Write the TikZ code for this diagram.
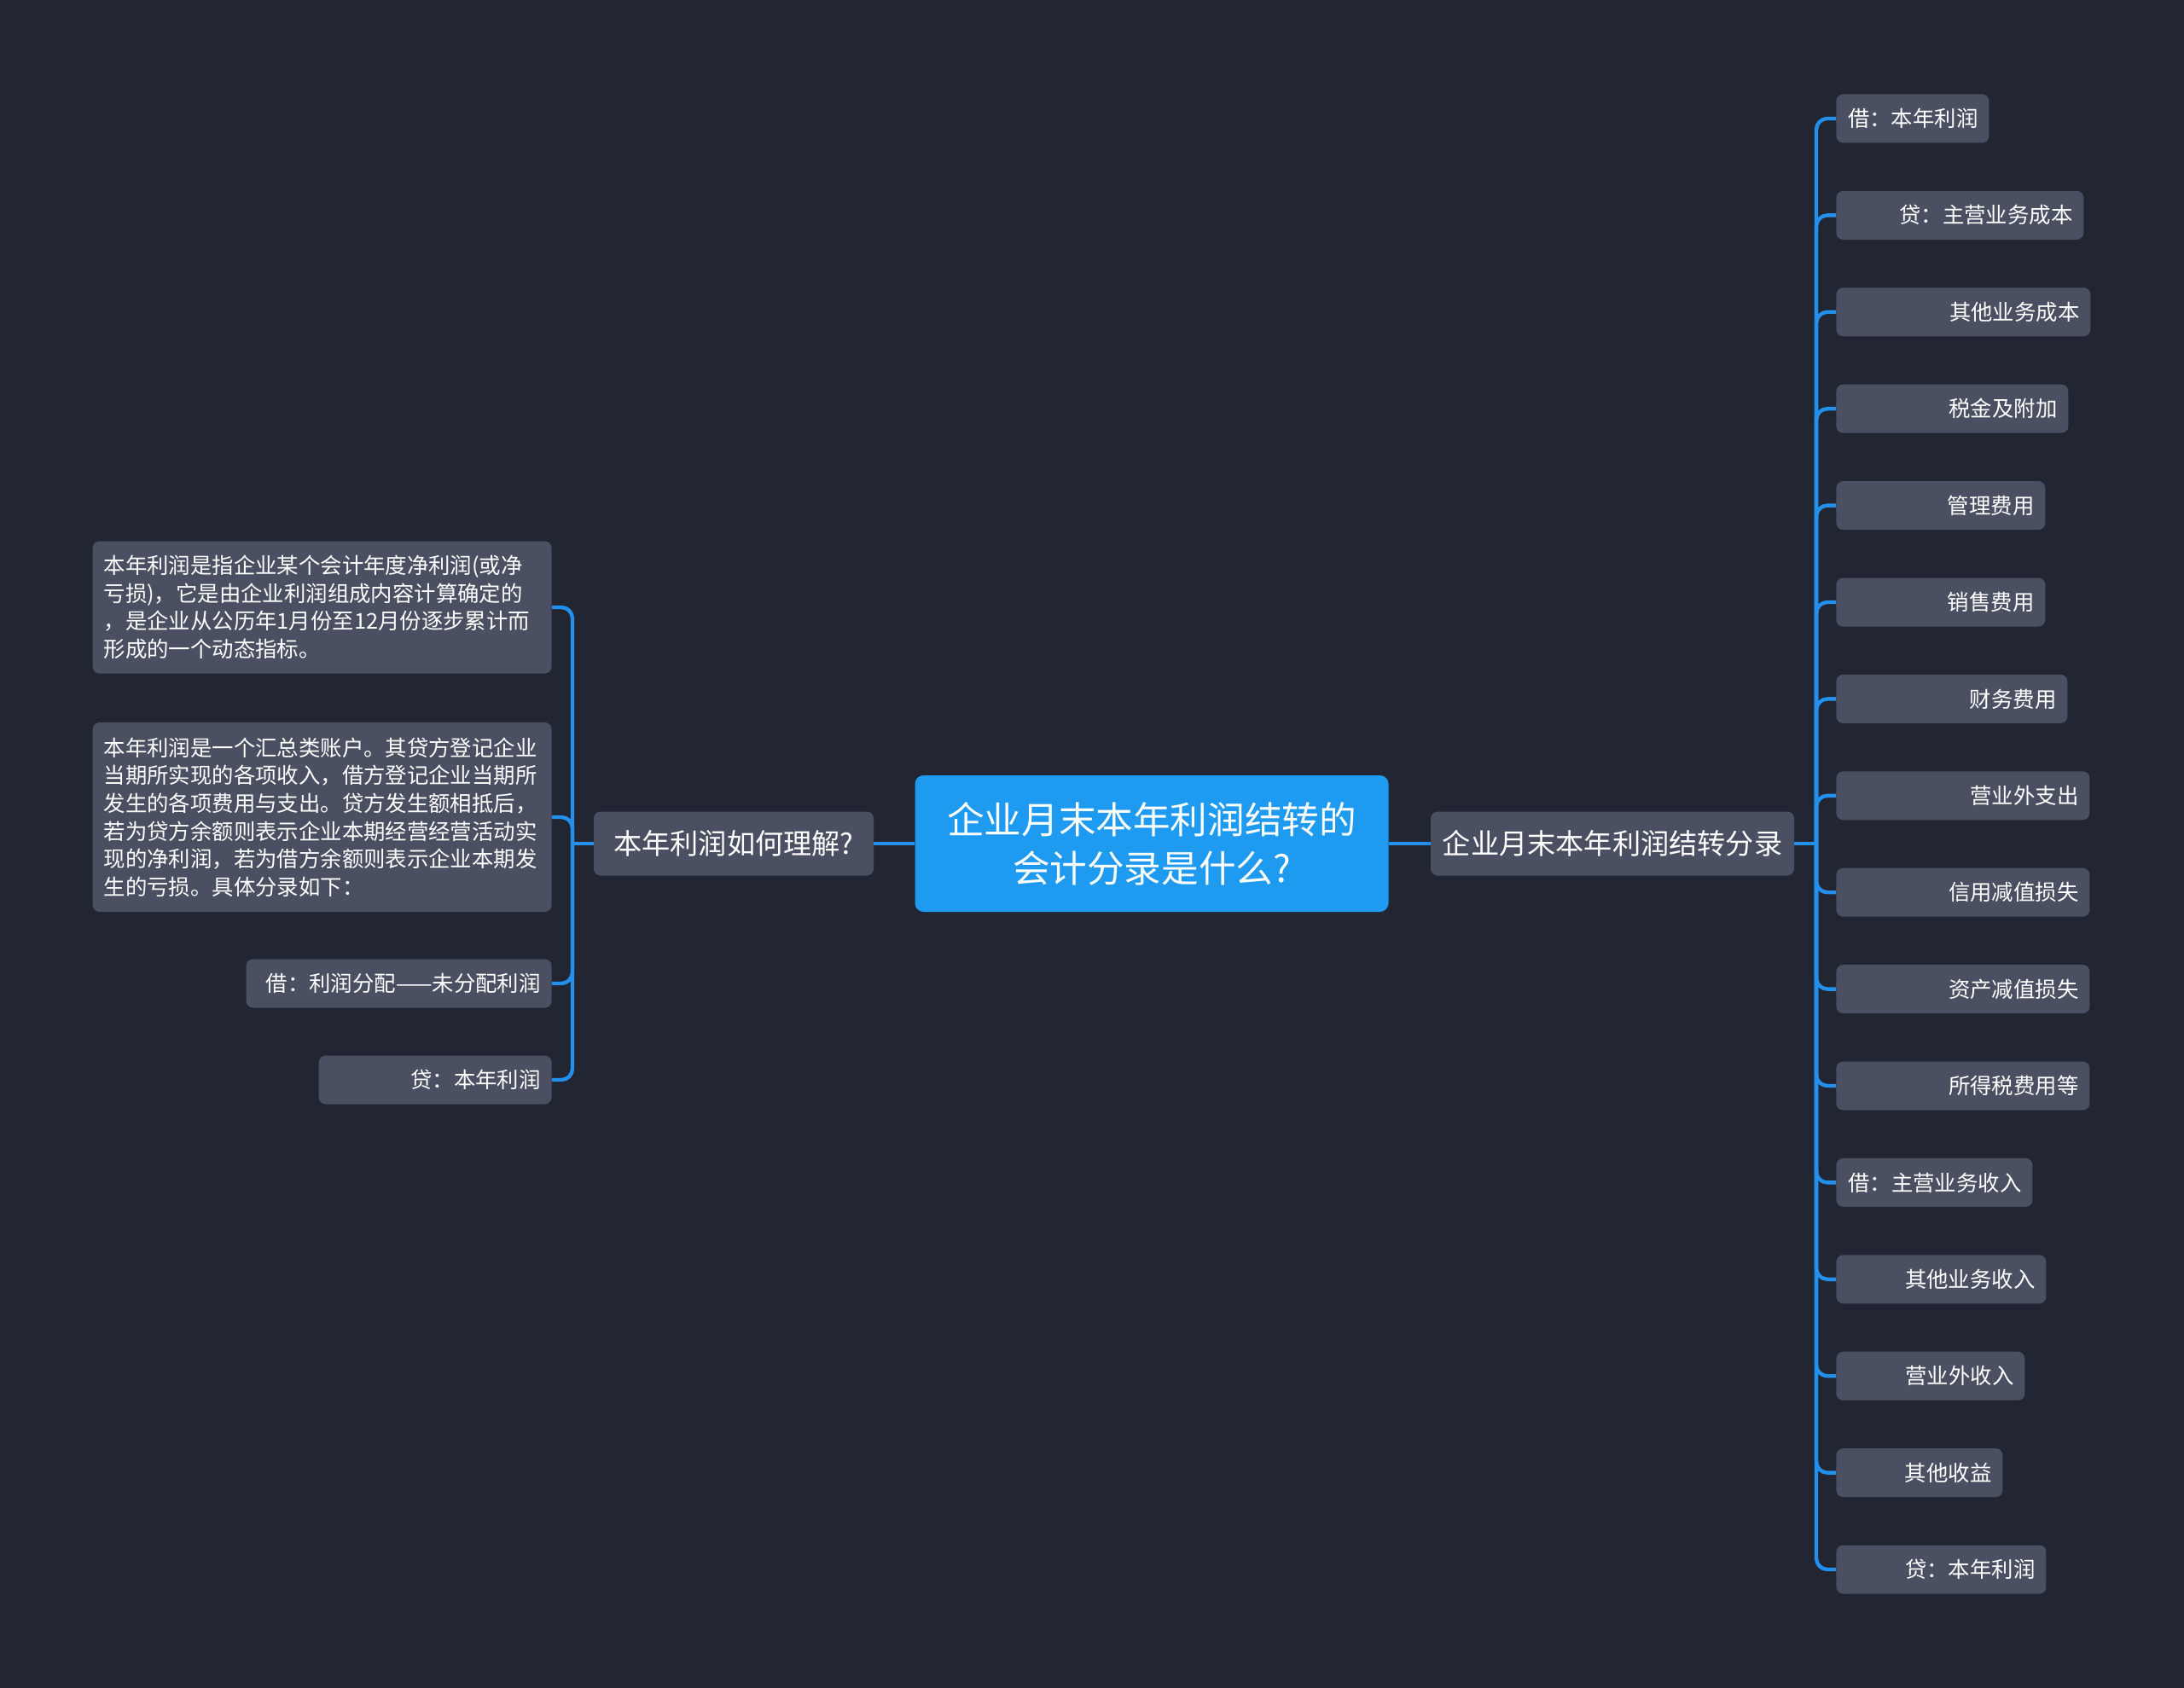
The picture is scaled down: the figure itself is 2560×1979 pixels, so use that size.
\documentclass[tikz,border=0pt]{standalone}
\usepackage{fontspec}
\setmainfont{Noto Sans CJK SC}
\definecolor{bgdark}{HTML}{222633}
\definecolor{boxgray}{HTML}{4A5062}
\definecolor{rootblue}{HTML}{1E9BF0}
\definecolor{linkblue}{HTML}{2290EC}
\begin{document}
\begin{tikzpicture}[x=0.5pt,y=-0.5pt,
  box/.style={fill=boxgray,rounded corners=4pt,text=white,font=\fontsize{12.7}{16.3}\selectfont,inner xsep=6.5pt,inner ysep=0pt,minimum height=28.5pt},
  topic/.style={fill=boxgray,rounded corners=4pt,text=white,font=\fontsize{16.6}{20}\selectfont,minimum height=37.5pt},
  link/.style={draw=linkblue,line width=2.2pt,rounded corners=6.5pt}]
  \fill[bgdark] (0,0) rectangle (2560,1979);
  \useasboundingbox (0,0) rectangle (2560,1979);
  \node[fill=rootblue,rounded corners=5pt,text=white,font=\fontsize{21.8}{28.6}\selectfont,align=center,minimum width=277.5pt,minimum height=80pt] (root) at (1350,989) {企业月末本年利润结转的\\会计分录是什么?};
  \node[topic,minimum width=164pt] (ask) at (860,989) {本年利润如何理解?};
  \node[topic,minimum width=213pt] (entry) at (1890,989) {企业月末本年利润结转分录};
  \draw[link] (root.west) -- (ask.east);
  \draw[link] (root.east) -- (entry.west);
  \coordinate (hubL) at (671,989);
  \coordinate (hubR) at (2129,989);
  \draw[link] (ask.west) -- (hubL);
  \draw[link] (entry.east) -- (hubR);
  \node[box,text width=256pt,align=left,anchor=east,minimum height=77.5pt] (def) at (647,712) {本年利润是指企业某个会计年度净利润(或净\\亏损)，它是由企业利润组成内容计算确定的\\，是企业从公历年1月份至12月份逐步累计而\\形成的一个动态指标。};
  \node[box,text width=256pt,align=left,anchor=east,minimum height=111pt] (acct) at (647,958) {本年利润是一个汇总类账户。其贷方登记企业\\当期所实现的各项收入，借方登记企业当期所\\发生的各项费用与支出。贷方发生额相抵后，\\若为贷方余额则表示企业本期经营经营活动实\\现的净利润，若为借方余额则表示企业本期发\\生的亏损。具体分录如下：};
  \node[box,text width=166pt,align=right,anchor=east] (debitL) at (647,1153) {借：利润分配——未分配利润};
  \node[box,text width=123.5pt,align=right,anchor=east] (creditL) at (647,1266) {贷：本年利润};
  \foreach \n in {def,acct,debitL,creditL}
    \draw[link] (hubL) |- (\n.east);
  \foreach \i/\w/\t in {0/179/借：本年利润,1/290/贷：主营业务成本,2/298/其他业务成本,3/272/税金及附加,4/245/管理费用,5/245/销售费用,6/271/财务费用,7/297/营业外支出,8/297/信用减值损失,9/297/资产减值损失,10/297/所得税费用等,11/230/借：主营业务收入,12/246/其他业务收入,13/221/营业外收入,14/195/其他收益,15/246/贷：本年利润}{
    \pgfmathsetmacro\tw{(\w-26)*0.5}
    \node[box,text width=\tw pt,align=right,anchor=west] (item\i) at (2152,{139+113.4*\i}) {\t};
    \draw[link] (hubR) |- (item\i.west);
  }
\end{tikzpicture}
\end{document}
